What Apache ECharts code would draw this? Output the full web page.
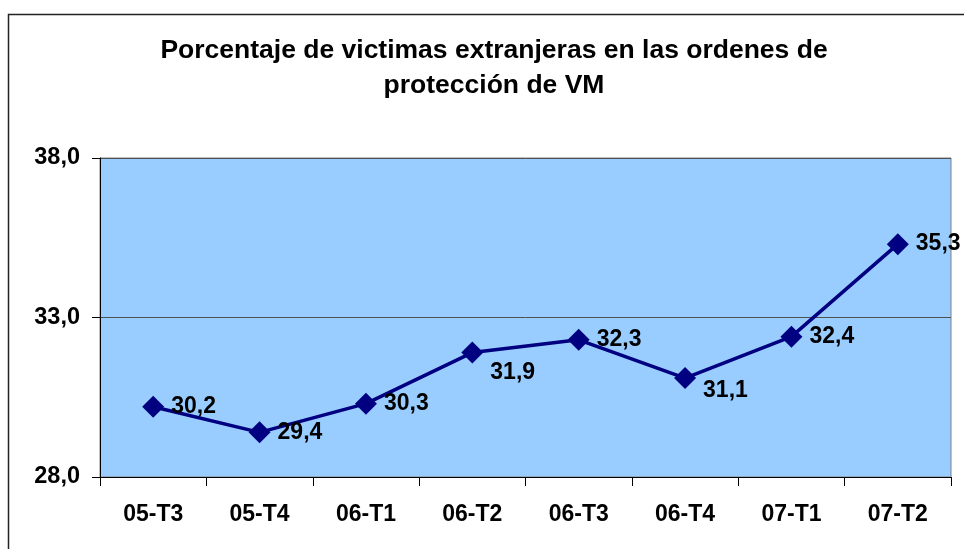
<!DOCTYPE html>
<html><head><meta charset="utf-8">
<script src="https://cdn.jsdelivr.net/npm/echarts@6/dist/echarts.min.js"></script>
<style>html,body{margin:0;padding:0;background:#fff}#c{width:964px;height:549px}</style>
</head><body><div id="c"></div>
<script>
const titleText = 'Porcentaje de victimas extranjeras en las ordenes de\nprotección de VM';
const categories = ['05-T3','05-T4','06-T1','06-T2','06-T3','06-T4','07-T1','07-T2'];
const values = [30.2, 29.4, 30.3, 31.9, 32.3, 31.1, 32.4, 35.3];
const yMin = 28, yMax = 38, yStep = 5;
const labelShiftDown = {3: 20, 5: 13};

const fmt = v => v.toFixed(1).replace('.', ',');
const font = 'Liberation Sans, Arial, sans-serif';
const chart = echarts.init(document.getElementById('c'), null, {renderer: 'canvas'});
chart.setOption({
  animation: false,
  backgroundColor: '#fff',
  title: {
    text: titleText, left: 489, top: 28, textAlign: 'center',
    textStyle: {fontFamily: font, fontWeight: 'bold', fontSize: 26.5, color: '#000', lineHeight: 35}
  },
  graphic: [{
    type: 'polyline', silent: true,
    shape: {points: [[8.5, 549], [8.5, 14.5], [964, 14.5]]},
    style: {stroke: '#222', lineWidth: 1.5, fill: null}
  }],
  grid: {left: 100, top: 158, right: 13, bottom: 72, show: true, backgroundColor: '#99CCFF', borderColor: '#808080', borderWidth: 1},
  xAxis: {
    type: 'category', data: categories, boundaryGap: true,
    axisLine: {lineStyle: {color: '#000', width: 1}},
    axisTick: {show: true, length: 9, lineStyle: {color: '#000'}},
    axisLabel: {margin: 26, color: '#000', fontFamily: font, fontWeight: 'bold', fontSize: 23}
  },
  yAxis: {
    type: 'value', min: yMin, max: yMax, interval: yStep,
    axisLine: {show: true, lineStyle: {color: '#000', width: 1}},
    axisTick: {show: true, length: 8, lineStyle: {color: '#000'}},
    splitLine: {show: true, lineStyle: {color: '#505050', width: 1}},
    axisLabel: {margin: 20, color: '#000', fontFamily: font, fontWeight: 'bold', fontSize: 23.5, formatter: fmt}
  },
  series: [{
    type: 'line',
    data: values.map((v, i) => ({
      value: v,
      label: labelShiftDown[i] ? {offset: [0, labelShiftDown[i]]} : undefined
    })),
    symbol: 'diamond', symbolSize: 22,
    lineStyle: {color: '#000080', width: 3.5},
    itemStyle: {color: '#000080'},
    label: {
      show: true, position: 'right', distance: 7, color: '#000',
      fontFamily: font, fontWeight: 'bold', fontSize: 23,
      formatter: p => fmt(p.value)
    }
  }]
});
</script></body></html>
